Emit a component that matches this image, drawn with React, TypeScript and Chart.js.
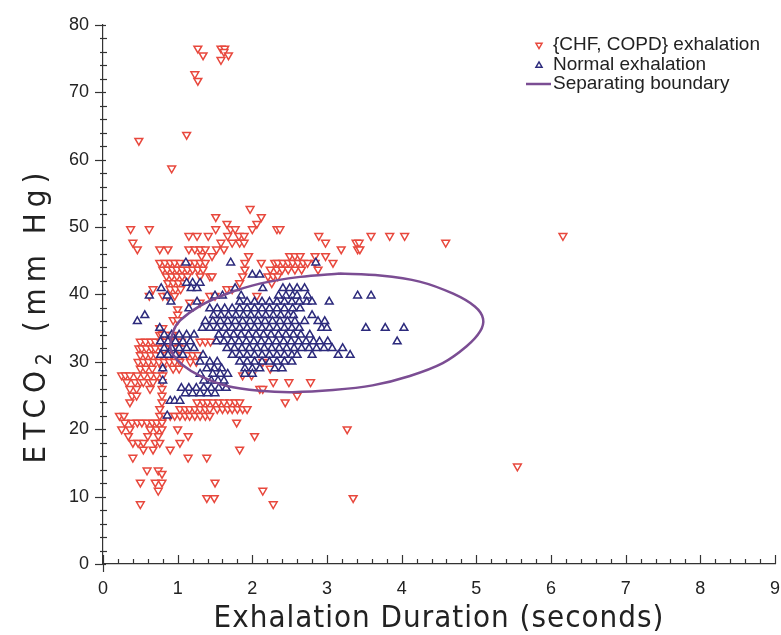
import React, { useEffect, useRef } from 'react';
import { Chart, registerables } from 'chart.js';

Chart.register(...registerables);

// ---------- data ----------
const X_MIN = 0;
const X_MAX = 9;
const Y_MIN = 0;
const Y_MAX = 80;
const xTickStep = 1;
const yTickStep = 10;

const legendLabels = ['{CHF, COPD} exhalation', 'Normal exhalation', 'Separating boundary'];
const xTitle = 'Exhalation Duration (seconds)';
const yTitleMain = 'ETCO';
const yTitleSub = '2';
const yTitleUnit = ' (mm Hg)';

// {CHF, COPD} exhalation: [ETCO2, durations...]
const chfRows: [number, number[]][] = [
  [76.5, [1.27, 1.58, 1.63]],
  [76, [1.62]],
  [75.5, [1.34, 1.68]],
  [74.8, [1.58]],
  [72.7, [1.23]],
  [71.7, [1.27]],
  [63.7, [1.12]],
  [62.8, [0.48]],
  [58.7, [0.92]],
  [52.7, [1.97]],
  [51.5, [1.51, 2.12]],
  [50.5, [1.66, 2.06]],
  [49.7, [0.37, 0.62, 1.51, 1.71, 1.77, 2.0, 2.33, 2.37]],
  [48.7, [1.15, 1.26, 1.41, 1.67, 1.82, 1.89, 2.89, 3.59, 3.84, 4.04, 6.16]],
  [47.7, [0.4, 1.58, 1.73, 1.83, 1.89, 2.98, 3.39, 3.43, 4.59]],
  [46.7, [0.46, 0.76, 0.87, 1.15, 1.23, 1.3, 1.37, 1.52, 1.62, 3.19, 3.41, 3.44]],
  [45.7, [1.32, 1.46, 1.95, 2.5, 2.57, 2.64, 2.84, 2.98]],
  [44.7, [0.76, 0.83, 0.9, 0.96, 1.03, 1.16, 1.23, 1.3, 1.37, 1.9, 2.12, 2.3, 2.34, 2.41, 2.48, 2.54, 2.61, 2.68, 2.74, 2.84, 3.08]],
  [43.7, [0.8, 0.86, 0.93, 0.99, 1.06, 1.13, 1.2, 1.27, 1.34, 1.9, 2.24, 2.33, 2.4, 2.48, 2.57, 2.66, 2.88]],
  [42.7, [0.85, 0.92, 0.99, 1.06, 1.13, 1.3, 1.43, 1.46, 1.87, 2.21, 2.28, 2.34]],
  [41.7, [0.87, 0.94, 1.01, 1.08, 1.83, 2.26]],
  [40.8, [0.67, 0.9, 0.97, 1.04, 1.66, 1.73]],
  [39.8, [0.62, 0.8, 0.86, 0.96, 1.43, 1.5, 2.06]],
  [38.8, [1.16, 1.3]],
  [37.8, [1.0]],
  [37, [1.0]],
  [36.2, [0.94, 1.0]],
  [35, [0.76, 0.8]],
  [34, [0.76, 0.79, 0.86, 0.93]],
  [33, [0.5, 0.57, 0.64, 0.7, 0.77, 0.84, 0.91, 0.98, 1.05, 1.3, 1.37, 1.44]],
  [32, [0.48, 0.52, 0.58, 0.65, 0.7, 0.78, 0.85, 0.92, 0.99, 1.06]],
  [31, [0.5, 0.57, 0.64, 0.71, 0.78, 0.85, 0.92, 0.99, 1.06, 1.13, 1.2, 1.27]],
  [30, [0.47, 0.54, 0.61, 0.68, 0.75, 0.82, 0.89, 0.96, 1.03, 1.17, 1.25, 2.14]],
  [29, [0.5, 0.57, 0.66, 0.8, 0.94, 1.02, 2.24]],
  [28, [0.25, 0.3, 0.36, 0.46, 0.55, 0.64, 0.72, 0.8, 1.87, 1.99]],
  [27, [0.32, 0.43, 0.5, 0.54, 0.63, 0.67, 0.79, 2.28, 2.49, 2.78]],
  [26, [0.36, 0.45, 0.63, 0.79, 2.1, 2.14]],
  [25, [0.39, 0.45, 0.79, 2.6]],
  [24, [0.36, 0.79, 1.26, 1.34, 1.4, 1.47, 1.55, 1.62, 1.7, 1.77, 1.83, 2.44]],
  [23, [0.76, 1.03, 1.1, 1.16, 1.23, 1.3, 1.37, 1.43, 1.53, 1.6, 1.67, 1.73, 1.8, 1.87, 1.93]],
  [22, [0.22, 0.28, 0.76, 0.83, 0.9, 0.96, 1.03, 1.1, 1.16, 1.23, 1.3, 1.37, 1.43]],
  [21, [0.29, 0.39, 0.46, 0.52, 0.59, 0.66, 0.72, 0.79, 1.79]],
  [20, [0.25, 0.36, 0.63, 0.72, 0.79, 1.0, 3.27]],
  [19, [0.34, 0.6, 0.74, 1.14, 2.03]],
  [18, [0.4, 0.47, 0.54, 0.7, 0.76, 1.03]],
  [17, [0.54, 0.67, 0.9, 1.83]],
  [15.8, [0.4, 1.14, 1.39]],
  [14.5, [5.55]],
  [13.9, [0.59, 0.74]],
  [13.4, [0.79]],
  [12.1, [0.5, 0.7, 0.79, 1.5]],
  [10.9, [0.74, 2.14]],
  [9.8, [1.39, 1.49, 3.35]],
  [8.9, [0.5, 2.28]],
];

// Normal exhalation: [ETCO2, durations...]
const normalRows: [number, number[]][] = [
  [44.7, [1.11, 1.71, 2.85]],
  [42.9, [2.0, 2.1]],
  [41.7, [1.12, 1.2, 1.3]],
  [40.9, [0.78, 1.18, 1.26, 1.77, 2.14, 2.41, 2.5, 2.6, 2.7]],
  [39.8, [0.62, 0.86, 1.5, 1.6, 1.85, 2.35, 2.45, 2.54, 2.6, 2.74, 3.41, 3.59]],
  [38.9, [0.91, 1.26, 1.83, 1.93, 2.03, 2.13, 2.23, 2.33, 2.43, 2.53, 2.63, 2.73, 2.8, 3.03]],
  [37.9, [1.15, 1.43, 1.53, 1.63, 1.73, 1.83, 1.93, 2.03, 2.13, 2.23, 2.33, 2.43, 2.54, 2.64]],
  [36.9, [0.56, 1.48, 1.58, 1.68, 1.78, 1.88, 1.98, 2.08, 2.18, 2.28, 2.38, 2.48, 2.55, 2.8]],
  [36, [0.46, 1.37, 1.47, 1.57, 1.67, 1.77, 1.87, 1.97, 2.07, 2.17, 2.27, 2.37, 2.47, 2.57, 2.7, 2.88, 2.97]],
  [35, [0.76, 1.33, 1.43, 1.53, 1.63, 1.73, 1.83, 1.93, 2.03, 2.13, 2.23, 2.33, 2.43, 2.53, 2.63, 2.93, 3.0, 3.52, 3.78, 4.03]],
  [34, [0.82, 0.92, 1.02, 1.12, 1.22, 1.55, 1.65, 1.75, 1.85, 1.95, 2.05, 2.15, 2.25, 2.35, 2.45, 2.55, 2.65, 2.77]],
  [33, [0.77, 0.87, 0.97, 1.07, 1.17, 1.52, 1.62, 1.72, 1.82, 1.92, 2.02, 2.12, 2.22, 2.32, 2.42, 2.52, 2.62, 2.72, 2.82, 2.9, 3.01, 3.94]],
  [32, [0.82, 0.92, 1.02, 1.12, 1.22, 1.66, 1.76, 1.86, 1.96, 2.06, 2.16, 2.26, 2.36, 2.46, 2.56, 2.66, 2.76, 2.86, 2.96, 3.07, 3.21]],
  [31, [0.77, 0.87, 0.97, 1.07, 1.34, 1.73, 1.83, 1.93, 2.03, 2.13, 2.23, 2.33, 2.43, 2.53, 2.6, 2.8, 3.15, 3.31]],
  [30, [1.3, 1.43, 1.53, 1.83, 1.93, 2.03, 2.13, 2.23, 2.33, 2.43, 2.53]],
  [29, [0.8, 1.39, 1.49, 1.59, 1.9, 2.0, 2.1, 2.3, 2.4]],
  [28.2, [1.3, 1.47, 1.57, 1.67, 1.9, 2.0]],
  [27.2, [0.8, 1.35, 1.45, 1.54, 1.62]],
  [26.1, [1.05, 1.15, 1.25, 1.35, 1.45, 1.55, 1.65]],
  [25.3, [1.1, 1.2, 1.3, 1.4, 1.5]],
  [24.2, [0.9, 0.96, 1.03]],
  [22, [0.86]],
];

// Separating boundary (closed curve), read point by point, starting at its top
const boundaryX = [3.17, 3.71, 4.24, 4.69, 4.98, 5.09, 5.05, 4.87, 4.55, 4.11, 3.61, 3.08, 2.54, 2.1, 1.66, 1.3, 1.07, 0.94, 0.9, 0.94, 1.03, 1.3, 1.66, 2.1, 2.64, 3.17];
const boundaryY = [43.1, 42.8, 41.9, 40.1, 38.2, 36.4, 34.5, 32.3, 29.8, 27.9, 26.5, 25.8, 25.5, 25.7, 26.4, 27.9, 29.5, 31.0, 32.3, 34.5, 36.1, 38.3, 40.1, 41.6, 42.6, 43.1];

// ---------- styles ----------
const RED = '#e8483d';
const BLUE = '#2c2a7c';
const PURPLE = '#7b4d93';
const AXIS = '#333333';
const TEXT = '#222222';
const TICK_FONT = "'Liberation Sans', Arial, sans-serif";
const TITLE_FONT = "'Liberation Sans Narrow', 'DejaVu Sans Condensed', sans-serif";

function rowsToPoints(rows: [number, number[]][]) {
  const out: { x: number; y: number }[] = [];
  rows.forEach(([y, xs]) => xs.forEach((x) => out.push({ x, y })));
  return out;
}

function triangle(ctx: CanvasRenderingContext2D, cx: number, cy: number, r: number, down: boolean) {
  const s = down ? -1 : 1;
  ctx.beginPath();
  ctx.moveTo(cx, cy - s * r);
  ctx.lineTo(cx + r * 0.866, cy + s * r * 0.5);
  ctx.lineTo(cx - r * 0.866, cy + s * r * 0.5);
  ctx.closePath();
}

const decorPlugin = {
  id: 'decor',
  afterDraw(chart: any) {
    const ctx: CanvasRenderingContext2D = chart.ctx;
    const xs = chart.scales.x;
    const ys = chart.scales.y;
    const ax = xs.left;
    const ay = ys.bottom;
    ctx.save();
    ctx.strokeStyle = AXIS;
    ctx.lineWidth = 1.2;
    // y ticks (major every 10, minor every 2)
    for (let i = 0; i <= (Y_MAX - Y_MIN) / 2; i++) {
      const v = Y_MIN + i * 2;
      const py = Math.round(ys.getPixelForValue(v)) + 0.5;
      const major = v % yTickStep === 0;
      ctx.beginPath();
      ctx.moveTo(major ? ax - 8 : ax - 3, py);
      ctx.lineTo(ax + (major ? 3 : 4), py);
      ctx.stroke();
    }
    // x ticks (major every 1, minor every 0.2), pointing inward
    for (let i = 0; i <= (X_MAX - X_MIN) * 5; i++) {
      const v = X_MIN + i / 5;
      const px = Math.round(xs.getPixelForValue(v)) + 0.5;
      const major = i % 5 === 0;
      ctx.beginPath();
      ctx.moveTo(px, ay - (major ? 9 : 5));
      ctx.lineTo(px, ay + (i === 0 ? 8 : 0));
      ctx.stroke();
    }
    // x title
    ctx.fillStyle = TEXT;
    ctx.font = `31px ${TITLE_FONT}`;
    (ctx as any).letterSpacing = '1px';
    ctx.textAlign = 'center';
    ctx.textBaseline = 'alphabetic';
    ctx.fillText(xTitle, (xs.left + xs.right) / 2, 627);

    // y title, rotated, with subscript
    ctx.save();
    (ctx as any).letterSpacing = '6px';
    ctx.translate(45, 315);
    ctx.rotate(-Math.PI / 2);
    ctx.textAlign = 'left';
    ctx.font = `31px ${TITLE_FONT}`;
    const w1 = ctx.measureText(yTitleMain).width;
    const w3 = ctx.measureText(yTitleUnit).width;
    ctx.font = `21px ${TITLE_FONT}`;
    const w2 = ctx.measureText(yTitleSub).width;
    const total = w1 + w2 + w3;
    let x0 = -total / 2;
    ctx.font = `31px ${TITLE_FONT}`;
    ctx.fillText(yTitleMain, x0, 0);
    x0 += w1;
    ctx.font = `21px ${TITLE_FONT}`;
    ctx.fillText(yTitleSub, x0, 6);
    x0 += w2;
    ctx.font = `31px ${TITLE_FONT}`;
    ctx.fillText(yTitleUnit, x0, 0);
    ctx.restore();

    // legend
    (ctx as any).letterSpacing = '0px';
    ctx.font = `19px ${TICK_FONT}`;
    ctx.textAlign = 'left';
    ctx.textBaseline = 'middle';
    const lx = 553;
    const rows = [45, 65, 84];
    ctx.lineWidth = 1.4;
    ctx.fillStyle = '#ffffff';
    ctx.strokeStyle = RED;
    triangle(ctx, 539, rows[0], 3.6, true);
    ctx.fill();
    ctx.stroke();
    ctx.strokeStyle = BLUE;
    triangle(ctx, 539, rows[1] + 0.5, 3.6, false);
    ctx.fill();
    ctx.stroke();
    ctx.strokeStyle = PURPLE;
    ctx.lineWidth = 2.5;
    ctx.beginPath();
    ctx.moveTo(526, rows[2]);
    ctx.lineTo(551, rows[2]);
    ctx.stroke();
    ctx.fillStyle = TEXT;
    legendLabels.forEach((t, i) => ctx.fillText(t, lx, rows[i]));
    ctx.restore();
  },
};

export default function App() {
  const ref = useRef<HTMLCanvasElement | null>(null);
  useEffect(() => {
    if (!ref.current) return;
    const xTicks: number[] = [];
    for (let v = X_MIN; v <= X_MAX; v += xTickStep) xTicks.push(v);
    const yTicks: number[] = [];
    for (let v = Y_MIN; v <= Y_MAX; v += yTickStep) yTicks.push(v);
    const chart = new Chart(ref.current, {
      type: 'scatter',
      data: {
        datasets: [
          {
            label: legendLabels[2],
            data: boundaryX.map((x, i) => ({ x, y: boundaryY[i] })),
            showLine: true,
            tension: 0.3,
            borderColor: PURPLE,
            borderWidth: 2.5,
            pointRadius: 0,
            fill: false,
            order: 0,
          } as any,
          {
            label: legendLabels[1],
            data: rowsToPoints(normalRows),
            pointStyle: 'triangle',
            pointRadius: 4.5,
            pointBorderWidth: 1.5,
            borderColor: BLUE,
            backgroundColor: '#ffffff',
            order: 1,
          } as any,
          {
            label: legendLabels[0],
            data: rowsToPoints(chfRows),
            pointStyle: 'triangle',
            pointRotation: 180,
            rotation: 180,
            pointRadius: 4.5,
            pointBorderWidth: 1.5,
            borderColor: RED,
            backgroundColor: '#ffffff',
            order: 2,
          } as any,
        ],
      },
      options: {
        animation: false,
        responsive: false,
        maintainAspectRatio: false,
        layout: { padding: { top: 22, right: 6, bottom: 0, left: 0 } },
        plugins: { legend: { display: false }, tooltip: { enabled: false } },
        scales: {
          x: {
            type: 'linear',
            min: X_MIN,
            max: X_MAX,
            afterFit: (s: any) => {
              s.height = 71;
              s.paddingLeft = 0;
              s.paddingRight = 0;
            },
            afterBuildTicks: (s: any) => {
              s.ticks = xTicks.map((value) => ({ value }));
            },
            ticks: { color: TEXT, font: { family: TICK_FONT, size: 18 }, padding: 14, maxRotation: 0 },
            grid: { display: true, drawOnChartArea: false, drawTicks: false },
            border: { display: true, color: AXIS, width: 1.2 },
          },
          y: {
            type: 'linear',
            min: Y_MIN,
            max: Y_MAX,
            afterFit: (s: any) => {
              s.width = 103;
            },
            afterBuildTicks: (s: any) => {
              s.ticks = yTicks.map((value) => ({ value }));
            },
            ticks: { color: TEXT, font: { family: TICK_FONT, size: 18 }, padding: 14 },
            grid: { display: true, drawOnChartArea: false, drawTicks: false },
            border: { display: true, color: AXIS, width: 1.2 },
          },
        },
      },
      plugins: [decorPlugin],
    });
    return () => chart.destroy();
  }, []);
  return (
    <div style={{ position: 'absolute', left: 0, top: 0, width: 781, height: 635, background: '#fff' }}>
      <canvas ref={ref} width={781} height={635} style={{ display: 'block', width: 781, height: 635 }} />
    </div>
  );
}
